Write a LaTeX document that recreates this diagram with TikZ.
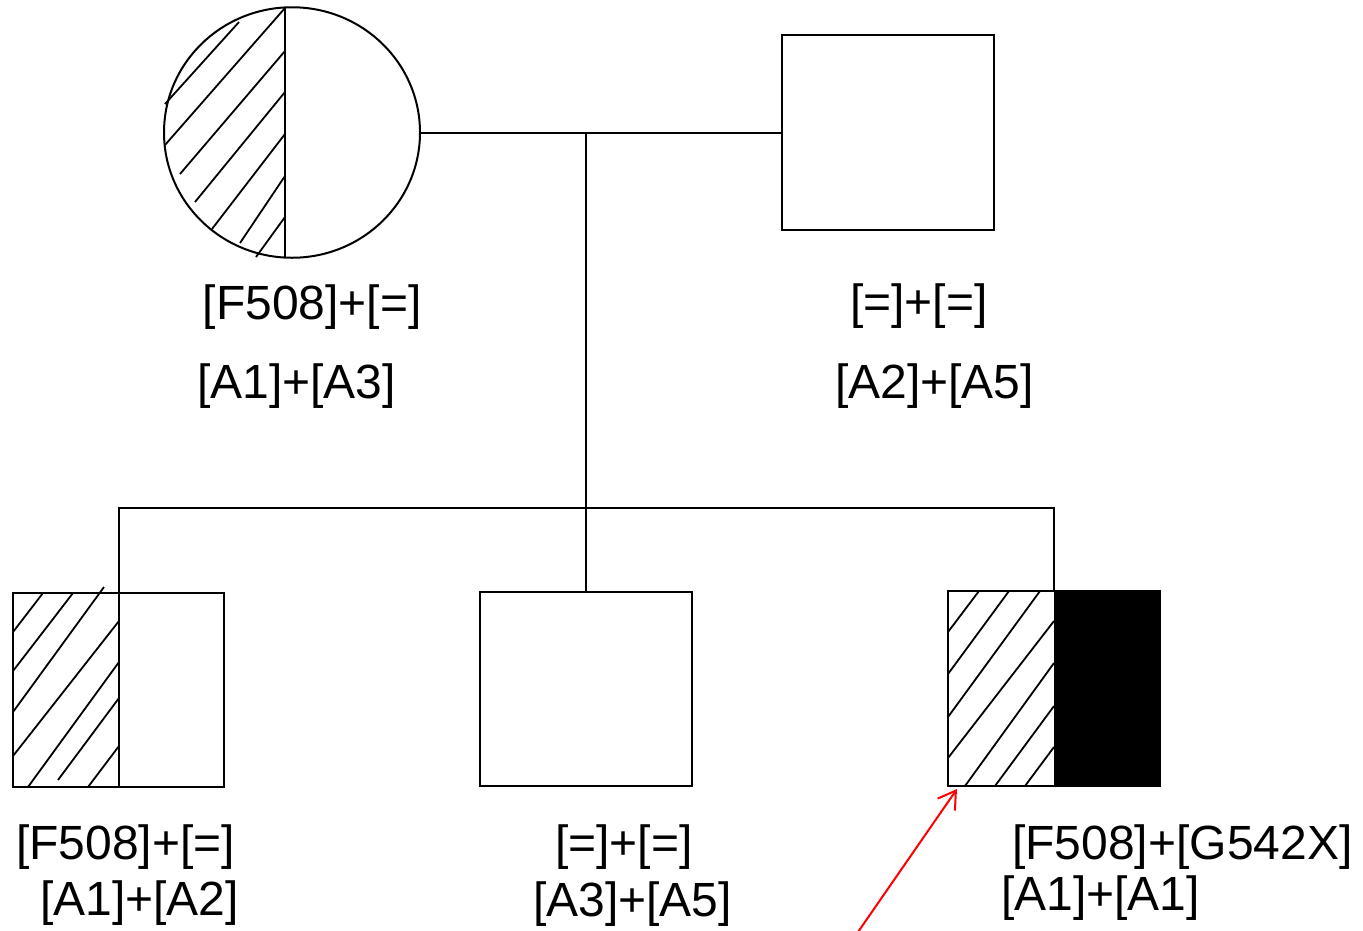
\documentclass[tikz,border=0pt]{standalone}
\usepackage{fontspec}
\setmainfont{Liberation Sans}
\usetikzlibrary{shapes.geometric,arrows.meta}
\begin{document}
\begin{tikzpicture}[x=1pt,y=-1pt,
  outline/.style={draw=black,line width=2pt},
  conn/.style={draw=black,line width=2pt},
  hatch/.style={draw=black,line width=1.8pt},
  lbl/.style={anchor=base west,inner sep=0pt,font=\fontsize{48pt}{57pt}\selectfont},
  sq/.style={rectangle,inner sep=0pt}]
\useasboundingbox (0,0) rectangle (1363,930);
% shapes (nodes)
\node[ellipse,inner sep=0pt,minimum width=256pt,minimum height=250.5pt] (mom) at (292,132.5) {};
\node[sq,minimum width=212pt,minimum height=195pt] (dad) at (888,132.5) {};
\node[sq,minimum width=211pt,minimum height=194pt] (c1) at (118.5,690) {};
\node[sq,minimum width=211pt,minimum height=194pt] (c2) at (586,689) {};
\node[sq,minimum width=212pt,minimum height=195pt] (c3) at (1054,688.5) {};
% fills and hatching
\fill[black] (c3.north) rectangle (c3.south east);
\draw[hatch] (165,104) -- (239,22);
\draw[hatch] (165,145) -- (285,8);
\draw[hatch] (180,174) -- (285,51);
\draw[hatch] (195,202) -- (285,92);
\draw[hatch] (212,229) -- (285,134);
\draw[hatch] (240,243) -- (285,176);
\draw[hatch] (256,257) -- (285,217);
\draw[hatch] (13,632) -- (43,593);
\draw[hatch] (13,671) -- (73,593);
\draw[hatch] (13,712) -- (104,587);
\draw[hatch] (13,756) -- (119,621);
\draw[hatch] (28,787) -- (119,662);
\draw[hatch] (58,780) -- (119,698);
\draw[hatch] (88,787) -- (119,746);
\draw[hatch] (948,632) -- (979,591);
\draw[hatch] (948,674) -- (1009,591);
\draw[hatch] (948,717) -- (1040,591);
\draw[hatch] (948,758) -- (1054,621);
\draw[hatch] (965,786) -- (1054,663);
\draw[hatch] (995,786) -- (1054,706);
\draw[hatch] (1025,786) -- (1054,747);
% outlines
\draw[outline] (mom.center) ellipse [x radius=128pt,y radius=125.25pt];
\draw[outline] (285,7.6) -- (285,257.6);
\draw[outline] (dad.north west) rectangle (dad.south east);
\draw[outline] (c1.north west) rectangle (c1.south east);
\draw[outline] (c1.north) -- (c1.south);
\draw[outline] (c2.north west) rectangle (c2.south east);
\draw[outline] (c3.north west) rectangle (c3.south east);
% connectors
\coordinate (m) at (586,132.5);
\coordinate (s) at (586,508);
\coordinate (sl) at (118.5,508);
\coordinate (sr) at (1054,508);
\draw[conn] (mom.east) -- (dad.west);
\draw[conn] (m) -- (s) -- (c2.north);
\draw[conn] (sl |- c1.north) -- (sl) -- (sr) -- (c3.north);
% arrow
\coordinate (arrtail) at (858,932);
\coordinate (arrtip) at (957,789);
\draw[red,line width=2pt,-{Straight Barb[length=17pt,width=21pt,line width=2pt]}] (arrtail) -- (arrtip);
% labels
\node[lbl] (t1) at (202.5,319) {[F508]+[=]};
\node[lbl] (t2) at (197,398) {[A1]+[A3]};
\node[lbl] (t3) at (850,318) {[=]+[=]};
\node[lbl] (t4) at (835,398) {[A2]+[A5]};
\node[lbl] (t5) at (16,859) {[F508]+[=]};
\node[lbl] (t6) at (40,915) {[A1]+[A2]};
\node[lbl] (t7) at (555,859) {[=]+[=]};
\node[lbl] (t8) at (533,916) {[A3]+[A5]};
\node[lbl] (t9) at (1012,859) {[F508]+[G542X]};
\node[lbl] (t10) at (1001,910) {[A1]+[A1]};
\end{tikzpicture}
\end{document}
